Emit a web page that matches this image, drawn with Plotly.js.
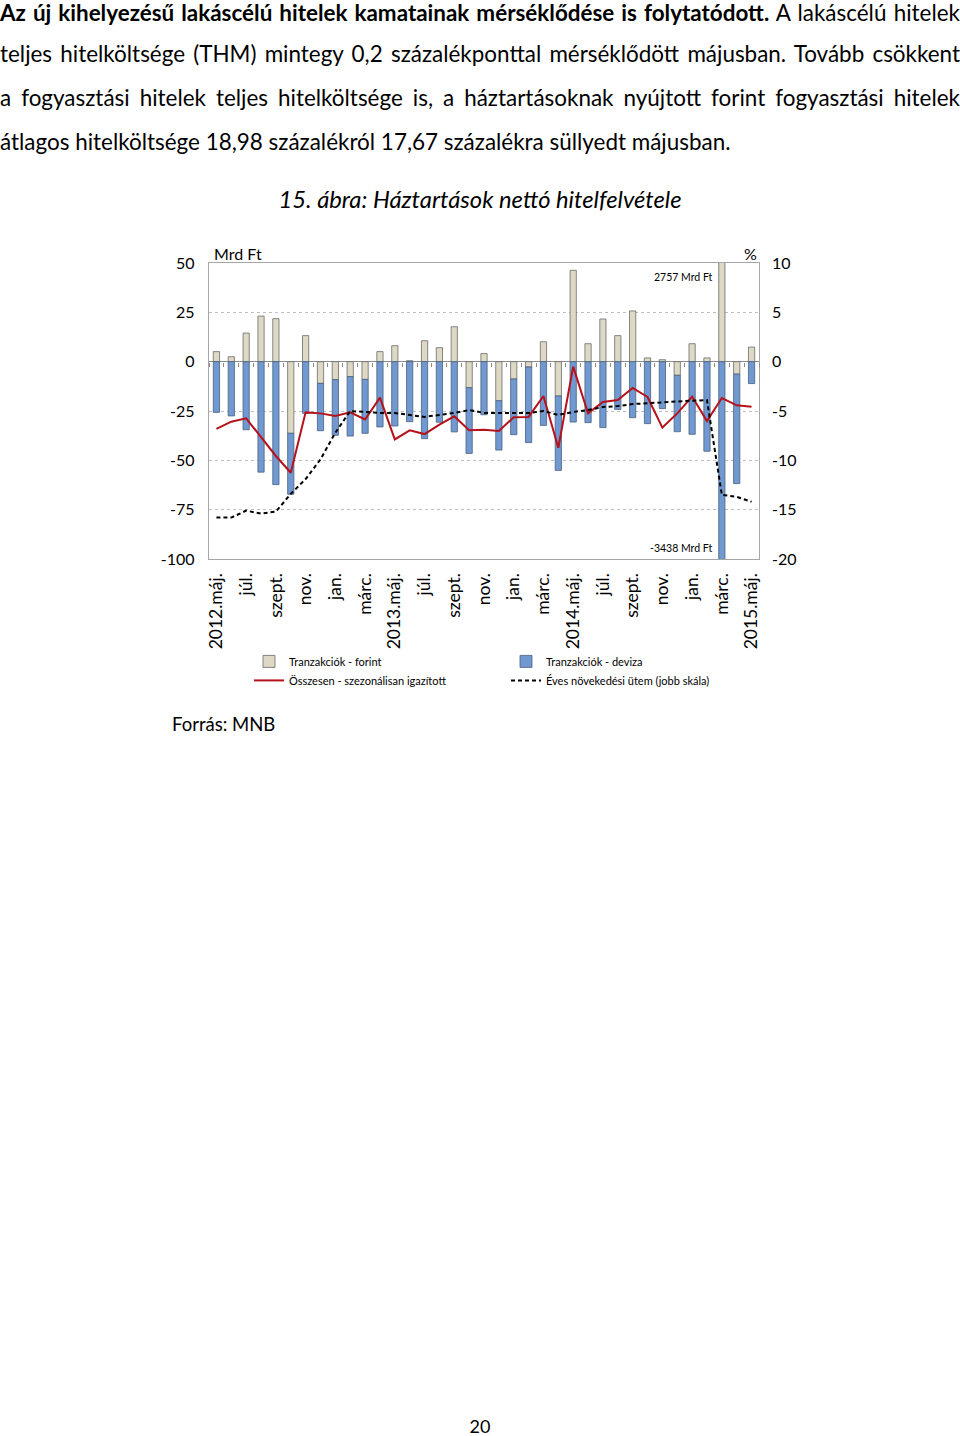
<!DOCTYPE html>
<html>
<head>
<meta charset="utf-8">
<script src="https://cdn.plot.ly/plotly-3.0.1.min.js"></script>
<style>
  html, body { margin:0; padding:0; background:#fff; }
  body { width:960px; height:1436px; position:relative; overflow:hidden; font-family:Lato, "Open Sans", sans-serif; color:#000; }
  #chart { position:absolute; left:0; top:0; width:960px; height:1436px; }
  .para { position:absolute; left:0; top:0; width:960px; font-size:20px; line-height:44px; z-index:2; }
  .para div { text-align:justify; text-align-last:justify; white-space:nowrap; }
  .para div.first { line-height:26px; margin-bottom:6px; }
  .para div.last { text-align-last:left; }
  .cap { position:absolute; left:0; width:960px; text-align:center; font-style:italic; font-size:21px; top:185px; z-index:2; }
  .src { position:absolute; left:172px; top:713px; font-size:18.5px; z-index:2; }
  .pg { position:absolute; left:0; width:960px; text-align:center; top:1415px; font-size:18px; z-index:2; }
</style>
</head>
<body>
<div id="chart"></div>
<div class="para" id="para">
  <div class="first"><b>Az új kihelyezésű lakáscélú hitelek kamatainak mérséklődése is folytatódott.</b> A lakáscélú hitelek</div>
  <div>teljes hitelköltsége (THM) mintegy 0,2 százalékponttal mérséklődött májusban. Tovább csökkent</div>
  <div>a fogyasztási hitelek teljes hitelköltsége is, a háztartásoknak nyújtott forint fogyasztási hitelek</div>
  <div class="last"><span id="lastLine">átlagos hitelköltsége 18,98 százalékról 17,67 százalékra süllyedt májusban.</span></div>
</div>
<div class="cap" id="cap"><span id="capText">15. ábra: Háztartások nettó hitelfelvétele</span></div>
<div class="src">Forrás: MNB</div>
<div class="pg">20</div>
<script>
// fit paragraph and caption font sizes to the reference text widths
(function(){
  const p = document.getElementById("para");
  const w = document.getElementById("lastLine").getBoundingClientRect().width;
  if (w > 0) p.style.fontSize = (20 * 731 / w).toFixed(2) + "px";
  const c = document.getElementById("cap");
  const cw = document.getElementById("capText").getBoundingClientRect().width;
  if (cw > 0) c.style.fontSize = (21 * 403 / cw).toFixed(2) + "px";
})();

// Months (categories)
const months = [
  "2012.máj.","2012.jún.","2012.júl.","2012.aug.","2012.szept.","2012.okt.","2012.nov.","2012.dec.",
  "2013.jan.","2013.febr.","2013.márc.","2013.ápr.","2013.máj.","2013.jún.","2013.júl.","2013.aug.",
  "2013.szept.","2013.okt.","2013.nov.","2013.dec.","2014.jan.","2014.febr.","2014.márc.","2014.ápr.",
  "2014.máj.","2014.jún.","2014.júl.","2014.aug.","2014.szept.","2014.okt.","2014.nov.","2014.dec.",
  "2015.jan.","2015.febr.","2015.márc.","2015.ápr.","2015.máj."
];
const tickMonths = [
  "2012.máj.","2012.júl.","2012.szept.","2012.nov.","2013.jan.","2013.márc.","2013.máj.","2013.júl.",
  "2013.szept.","2013.nov.","2014.jan.","2014.márc.","2014.máj.","2014.júl.","2014.szept.","2014.nov.",
  "2015.jan.","2015.márc.","2015.máj."
];
const tickLabels = [
  "2012.máj.","júl.","szept.","nov.","jan.","márc.","2013.máj.","júl.",
  "szept.","nov.","jan.","márc.","2014.máj.","júl.","szept.","nov.",
  "jan.","márc.","2015.máj."
];
const leftTickVals = [-100, -75, -50, -25, 0, 25, 50];
const leftTickText = ["-100", "-75", "-50", "-25", "0", "25", "50"];
const rightTickVals = [-20, -15, -10, -5, 0, 5, 10];
const rightTickText = ["-20", "-15", "-10", "-5", "0", "5", "10"];
// Tranzakciók - forint (Mrd Ft)
const forint = [
  5.1, 2.5, 14.5, 23.1, 21.8, -36.3, 13.2, -11.0,
  -9.1, -7.6, -9.0, 5.1, 8.1, 0.5, 10.6, 7.1,
  17.7, -13.2, 4.1, -19.8, -8.8, -2.7, 10.1, -17.4,
  46.3, 9.1, 21.6, 13.2, 25.7, 1.9, 1.0, -6.9,
  9.1, 1.9, 2757, -6.3, 7.4
];
// Tranzakciók - deviza (Mrd Ft)
const deviza = [
  -25.7, -27.5, -34.5, -56.0, -62.3, -30.9, -26.2, -24.0,
  -28.2, -30.1, -27.3, -33.1, -32.6, -30.4, -39.0, -30.7,
  -35.6, -33.3, -26.9, -25.0, -28.2, -38.3, -32.3, -37.7,
  -30.6, -30.9, -33.4, -24.2, -28.4, -31.4, -23.8, -28.6,
  -36.8, -45.4, -3438, -55.5, -11.1
];
// Összesen - szezonálisan igazított (Mrd Ft)
const osszesen = [
  -34.1, -30.4, -28.7, -38.5, -47.8, -56.3, -25.7, -26.2,
  -27.5, -25.7, -29.3, -18.2, -39.4, -34.8, -36.7, -31.9,
  -27.7, -34.8, -34.5, -35.1, -28.2, -28.0, -17.4, -43.6,
  -2.5, -26.2, -20.4, -19.4, -13.3, -17.9, -33.4, -26.2,
  -17.7, -30.1, -18.4, -22.1, -22.8
];
// Éves növekedési ütem (%, jobb skála)
const eves = [
  -15.8, -15.8, -15.1, -15.4, -15.2, -13.4, -11.9, -9.9,
  -7.2, -5.0, -5.1, -5.2, -5.2, -5.4, -5.6, -5.4,
  -5.2, -4.9, -5.2, -5.2, -5.2, -5.2, -5.0, -5.4,
  -5.1, -4.9, -4.6, -4.5, -4.3, -4.2, -4.1, -4.0,
  -3.95, -3.9, -13.5, -13.7, -14.2
];
const bigForint = "2757 Mrd Ft";
const bigDeviza = "-3438 Mrd Ft";

const FONT = "Lato, Open Sans, sans-serif";
const traces = [
  { type:"bar", name:"Tranzakciók - forint", x:months, y:forint,
    marker:{color:"#ddd9c4", line:{color:"#6b6b6b", width:0.8}}, yaxis:"y", xaxis:"x" },
  { type:"bar", name:"Tranzakciók - deviza", x:months, y:deviza,
    marker:{color:"#7099d2", line:{color:"#4a5f7e", width:0.8}}, yaxis:"y", xaxis:"x" },
  { type:"scatter", mode:"lines", name:"Összesen - szezonálisan igazított", x:months, y:osszesen,
    line:{color:"#b5121b", width:2}, yaxis:"y", xaxis:"x" },
  { type:"scatter", mode:"lines", name:"Éves növekedési ütem (jobb skála)", x:months, y:eves,
    line:{color:"#000000", width:2, dash:"4px,3px"}, yaxis:"y2", xaxis:"x" },
  { type:"scatter", mode:"none", x:[], y:[], xaxis:"x2", yaxis:"y", showlegend:false, hoverinfo:"skip" }
];

const layout = {
  width:960, height:1436,
  margin:{l:209, r:201, t:263, b:877, pad:0},
  paper_bgcolor:"#fff", plot_bgcolor:"#fff",
  barmode:"relative", bargap:0.58,
  showlegend:true,
  font:{family:FONT, color:"#000"},
  xaxis:{
    type:"category", categoryorder:"array", categoryarray:months,
    range:[-0.5, 36.5],
    tickmode:"array", tickvals:tickMonths, ticktext:tickLabels,
    tickangle:-90, tickfont:{size:17.5, family:FONT, color:"#000"},
    ticks:"", showgrid:false, zeroline:false,
    showline:true, linecolor:"#a6a6a6", linewidth:1.2, mirror:true,
    ticklabelstandoff:6
  },
  xaxis2:{
    overlaying:"x", anchor:"free", position:2/3, type:"linear",
    range:[-0.5, 36.5], tickmode:"linear", tick0:0.5, dtick:1,
    ticks:"outside", ticklen:4, tickcolor:"#8c8c8c", tickwidth:1,
    showticklabels:false, showgrid:false, zeroline:false, showline:false
  },
  yaxis:{
    range:[-100, 50], tickmode:"array", tickvals:leftTickVals, ticktext:leftTickText,
    tickfont:{size:16, family:FONT, color:"#000"},
    showgrid:true, gridcolor:"#bfbfbf", griddash:"dot", gridwidth:1,
    zeroline:true, zerolinecolor:"#8c8c8c", zerolinewidth:1.2,
    showline:true, linecolor:"#a6a6a6", linewidth:1.2, mirror:true,
    ticks:"", ticklabelstandoff:10
  },
  yaxis2:{
    overlaying:"y", side:"right", range:[-20, 10], tickmode:"array", tickvals:rightTickVals, ticktext:rightTickText,
    tickfont:{size:16, family:FONT, color:"#000"},
    showgrid:false, zeroline:false, showline:false, ticks:"", ticklabelstandoff:12
  },
  legend:{
    orientation:"h", x:0.0727, xanchor:"left", y:-0.297, yanchor:"top",
    traceorder:"normal", entrywidth:212, entrywidthmode:"pixels",
    font:{size:11, family:FONT, color:"#000"}, itemwidth:30,
    bgcolor:"rgba(0,0,0,0)"
  },
  annotations:[
    {text:"Mrd Ft", xref:"paper", yref:"paper", x:0.006, y:1.0, xanchor:"left", yanchor:"bottom",
     showarrow:false, font:{size:16, family:FONT}, yshift:-2},
    {text:"%", xref:"paper", yref:"paper", x:0.985, y:1.0, xanchor:"center", yanchor:"bottom",
     showarrow:false, font:{size:16, family:FONT}, yshift:-2},
    {text:bigForint, xref:"x", yref:"y", x:months[34], y:43, xanchor:"right", yanchor:"middle",
     xshift:-7, showarrow:false, font:{size:10.5, family:FONT}},
    {text:bigDeviza, xref:"x", yref:"y", x:months[34], y:-94.5, xanchor:"right", yanchor:"middle",
     xshift:-7, showarrow:false, font:{size:10.5, family:FONT}}
  ]
};

Plotly.newPlot("chart", traces, layout, {staticPlot:true, displayModeBar:false});
</script>
</body>
</html>
